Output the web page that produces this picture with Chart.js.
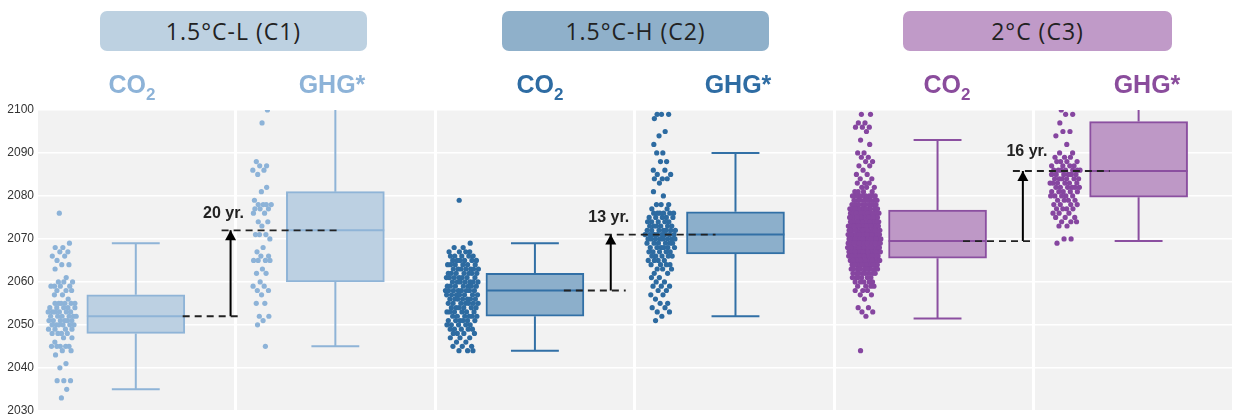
<!DOCTYPE html>
<html>
<head>
<meta charset="utf-8">
<script src="https://cdn.jsdelivr.net/npm/chart.js@4/dist/chart.umd.min.js"></script>
<style>
  html, body { margin:0; padding:0; background:#fff; overflow:hidden; width:1236px; height:415px; }
  #wrap { position:relative; width:1236px; height:420px; }
  canvas { position:absolute; left:0; top:0; }
  .tb { position:absolute; top:11px; height:40px; border-radius:7px; display:flex; align-items:center; justify-content:center;
        font-family:'Open Sans', sans-serif; font-size:23px; color:#222; letter-spacing:1px; z-index:2; }
  .st { position:absolute; top:71px; line-height:26px; font-family:'Liberation Sans', Arial, sans-serif; font-weight:bold; font-size:25px;
        transform:translateX(-50%); white-space:nowrap; z-index:2; }
  .st .s2 { font-size:17px; position:relative; top:7px; }
</style>
</head>
<body>
<div id="wrap">
  <canvas id="c" width="1236" height="420"></canvas>
  <div class="tb" style="left:100px;width:267px;background:#bdd1e1">1.5°C-L (C1)</div>
  <div class="tb" style="left:502px;width:267px;background:#8fb0ca">1.5°C-H (C2)</div>
  <div class="tb" style="left:903px;width:269px;background:#c09ac8">2°C (C3)</div>
  <div class="st" style="left:132px;color:#8db3d8">CO<span class="s2">2</span></div>
  <div class="st" style="left:332px;color:#8db3d8">GHG*</div>
  <div class="st" style="left:540px;color:#2e6ca3">CO<span class="s2">2</span></div>
  <div class="st" style="left:738px;color:#2e6ca3">GHG*</div>
  <div class="st" style="left:947px;color:#8a4c9c">CO<span class="s2">2</span></div>
  <div class="st" style="left:1147px;color:#8a4c9c">GHG*</div>
</div>
<script>
// ---------------- DATA ----------------
const categories = ['1.5°C-L (C1)', '1.5°C-H (C2)', '2°C (C3)'];
const gases = ['CO2', 'GHG*'];
const yTicks = [2030, 2040, 2050, 2060, 2070, 2080, 2090, 2100];
const gapLabels = ['20 yr.', '13 yr.', '16 yr.'];

const c1Co2 = [2076,2069,2068,2068,2067,2067,2066,2066,2065,2064,2064,2063,2061,2060,2060,2060,2059,2059,2059,2059,2058,2058,2058,2057,2057,2056,2055,2055,2055,2055,2055,2055,2054,2054,2054,2054,2054,2053,2053,2053,2053,2053,2053,2052,2052,2052,2052,2052,2052,2051,2051,2051,2051,2051,2051,2050,2050,2050,2050,2050,2050,2049,2049,2049,2049,2048,2048,2048,2048,2047,2047,2046,2045,2045,2045,2045,2045,2044,2044,2043,2041,2040,2037,2037,2037,2035,2033];
const c1Ghg = [2101,2100,2097,2088,2087,2087,2086,2086,2085,2082,2081,2079,2078,2078,2078,2078,2077,2077,2077,2076,2076,2074,2074,2073,2071,2071,2071,2070,2068,2067,2066,2066,2065,2065,2065,2065,2063,2062,2062,2060,2059,2059,2058,2058,2057,2055,2055,2052,2052,2051,2050,2045];
const c2Co2 = [2079,2069,2068,2068,2067,2067,2067,2067,2066,2066,2066,2066,2066,2065,2065,2065,2065,2065,2065,2064,2064,2064,2064,2064,2064,2063,2063,2063,2063,2063,2063,2063,2062,2062,2062,2062,2062,2062,2062,2061,2061,2061,2061,2061,2061,2061,2060,2060,2060,2060,2060,2060,2060,2059,2059,2059,2059,2059,2059,2059,2058,2058,2058,2058,2058,2058,2058,2058,2057,2057,2057,2057,2057,2057,2057,2056,2056,2056,2056,2056,2056,2056,2055,2055,2055,2055,2055,2055,2055,2054,2054,2054,2054,2054,2054,2053,2053,2053,2053,2053,2053,2052,2052,2052,2052,2052,2052,2051,2051,2051,2051,2051,2051,2050,2050,2050,2050,2050,2049,2049,2049,2049,2049,2048,2048,2048,2048,2047,2047,2047,2046,2046,2045,2045,2045,2044,2044,2044];
const c2Ghg = [2099,2099,2099,2098,2095,2094,2092,2090,2090,2088,2088,2086,2086,2085,2085,2084,2084,2084,2083,2081,2080,2078,2078,2078,2077,2077,2076,2076,2076,2076,2076,2076,2075,2075,2075,2075,2075,2074,2074,2074,2074,2074,2073,2073,2073,2073,2073,2073,2072,2072,2072,2072,2072,2072,2072,2071,2071,2071,2071,2071,2071,2071,2071,2071,2070,2070,2070,2070,2070,2070,2070,2070,2069,2069,2069,2069,2069,2069,2068,2068,2068,2068,2068,2068,2067,2067,2067,2067,2067,2066,2066,2066,2066,2066,2065,2065,2065,2065,2064,2064,2064,2064,2063,2063,2063,2062,2062,2061,2061,2060,2060,2059,2059,2059,2058,2058,2057,2057,2056,2055,2055,2054,2054,2053,2053,2052,2051];
const c3Co2 = [2099,2099,2097,2097,2096,2096,2096,2095,2093,2092,2090,2090,2089,2089,2088,2088,2087,2087,2086,2085,2085,2084,2084,2083,2083,2083,2082,2082,2082,2081,2081,2081,2081,
2080,2080,2080,2080,2080,2080,2080,2080,
2079,2079,2079,2079,2079,2079,2079,2079,2079,
2078,2078,2078,2078,2078,2078,2078,2078,2078,2078,
2077,2077,2077,2077,2077,2077,2077,2077,2077,2077,2077,2077,
2076,2076,2076,2076,2076,2076,2076,2076,2076,2076,2076,2076,2076,
2075,2075,2075,2075,2075,2075,2075,2075,2075,2075,2075,2075,2075,
2074,2074,2074,2074,2074,2074,2074,2074,2074,2074,2074,2074,2074,2074,
2073,2073,2073,2073,2073,2073,2073,2073,2073,2073,2073,2073,2073,2073,2073,
2072,2072,2072,2072,2072,2072,2072,2072,2072,2072,2072,2072,2072,2072,2072,2072,
2071,2071,2071,2071,2071,2071,2071,2071,2071,2071,2071,2071,2071,2071,2071,2071,2071,
2070,2070,2070,2070,2070,2070,2070,2070,2070,2070,2070,2070,2070,2070,2070,2070,2070,2070,
2069,2069,2069,2069,2069,2069,2069,2069,2069,2069,2069,2069,2069,2069,2069,2069,2069,2069,
2068,2068,2068,2068,2068,2068,2068,2068,2068,2068,2068,2068,2068,2068,2068,2068,2068,2068,
2067,2067,2067,2067,2067,2067,2067,2067,2067,2067,2067,2067,2067,2067,2067,2067,2067,
2066,2066,2066,2066,2066,2066,2066,2066,2066,2066,2066,2066,2066,2066,2066,2066,
2065,2065,2065,2065,2065,2065,2065,2065,2065,2065,2065,2065,2065,2065,
2064,2064,2064,2064,2064,2064,2064,2064,2064,2064,2064,2064,
2063,2063,2063,2063,2063,2063,2063,2063,2063,2063,
2062,2062,2062,2062,2062,2062,2062,2062,
2061,2061,2061,2061,2061,2061,
2060,2060,2060,2060,2060,
2059,2059,2059,2059,
2058,2058,2058,
2057,2057,2056,2054,2054,2053,2053,2052,2044];
const c3Ghg = [2100,2099,2099,2097,2095,2095,2094,2092,2090,2090,2089,2089,2089,2088,2088,2088,2088,2087,2087,2087,2087,2086,2086,2086,2086,2086,2086,2086,2085,2085,2085,2085,2085,2085,2084,2084,2084,2084,2084,2084,2083,2083,2083,2083,2083,2083,2082,2082,2082,2082,2082,2082,2081,2081,2081,2081,2081,2080,2080,2080,2080,2080,2079,2079,2079,2079,2078,2078,2078,2078,2077,2077,2077,2077,2076,2076,2076,2075,2075,2075,2074,2074,2074,2073,2073,2070,2070,2069];

// box statistics (C1 CO2, C1 GHG, C2 CO2, C2 GHG, C3 CO2, C3 GHG)
const boxLow  = [2035, 2045, 2044, 2052, 2051.5, 2069.5];
const boxQ1   = [2048, 2060, 2052, 2066.5, 2065.5, 2079.7];
const boxMed  = [2052, 2072, 2058, 2071, 2069.5, 2085.8];
const boxQ3   = [2057, 2081, 2062, 2076.3, 2076.7, 2097.3];
const boxHigh = [2069, 2110, 2069, 2090, 2093, 2110];

// ---------------- LAYOUT / STYLE ----------------
const strips = [c1Co2, c1Ghg, c2Co2, c2Ghg, c3Co2, c3Ghg];
const stripCenter = [0.13, 0.13, 0.135, 0.13, 0.15, 0.155];
const stripHalf   = [0.075, 0.055, 0.085, 0.08, 0.085, 0.08];
const boxCenter   = [0.5, 0.5, 0.5, 0.505, 0.5175, 0.525];
const boxWidthU = 0.245, capHalfU = 0.12;
const pointColor = ['#8db3d8','#8db3d8','#2d6ba1','#2d6ba1','#8646a0','#8646a0'];
const boxFill    = ['#bcd0e2','#bcd0e2','#8cafcb','#8cafcb','#be98c6','#be98c6'];
const boxLine    = ['#8fb4d7','#8fb4d7','#3270a6','#3270a6','#8b4fa0','#8b4fa0'];
const annot = [
  {lowFrom:0.735, lowTo:1.035, arrowX:0.975, upFrom:0.93,  upTo:1.53,  dx:-7, dy:-17},
  {lowFrom:0.645, lowTo:0.955, arrowX:0.88,  upFrom:0.85,  upTo:1.405, dx:-2, dy:-17},
  {lowFrom:0.645, lowTo:0.985, arrowX:0.945, upFrom:0.895, upTo:1.38,  dx:4,  dy:-19}
];

// strip-plot jitter: evenly spread offsets, width following local density (layout only)
function stripOffsets(vals, half) {
  const dens = vals.map(v => vals.filter(w => Math.abs(w - v) <= 1.5).length);
  const dmax = Math.max(...dens);
  return vals.map((v, i) => {
    const f = (i * 0.6180339887 + 0.31) % 1;
    const w = half * Math.min(1, 0.3 + 0.7 * Math.sqrt(dens[i] / dmax));
    return (f - 0.5) * 2 * w;
  });
}

const datasets = [];
strips.forEach((vals, s) => {
  const off = stripOffsets(vals, stripHalf[s]);
  datasets.push({
    type: 'scatter', order: 1, clip: 0,
    data: vals.map((v, i) => ({x: s + stripCenter[s] + off[i], y: v})),
    backgroundColor: pointColor[s], borderWidth: 0, pointRadius: 2.6, pointHoverRadius: 2.6
  });
});
datasets.push({
  type: 'bar', order: 3, clip: 0,
  data: boxQ1.map((q1, s) => ({x: s + boxCenter[s], y: [q1, boxQ3[s]]})),
  backgroundColor: boxFill, borderColor: boxLine, borderWidth: 2, borderSkipped: false,
  barThickness: 98, grouped: false
});
const GAP = {x: null, y: null};
strips.forEach((_, s) => {
  const c = s + boxCenter[s];
  datasets.push({
    type: 'scatter', order: 2, showLine: true, spanGaps: false, clip: 0,
    data: [
      {x: c, y: boxQ3[s]}, {x: c, y: boxHigh[s]}, GAP,
      {x: c - capHalfU, y: boxHigh[s]}, {x: c + capHalfU, y: boxHigh[s]}, GAP,
      {x: c, y: boxQ1[s]}, {x: c, y: boxLow[s]}, GAP,
      {x: c - capHalfU, y: boxLow[s]}, {x: c + capHalfU, y: boxLow[s]}, GAP,
      {x: c - boxWidthU, y: boxMed[s]}, {x: c + boxWidthU, y: boxMed[s]}
    ],
    borderColor: boxLine[s], borderWidth: 2, pointRadius: 0, pointHoverRadius: 0
  });
});
annot.forEach((a, g) => {
  const base = 2 * g, lo = boxMed[base], hi = boxMed[base + 1];
  datasets.push({
    type: 'scatter', order: 0, showLine: true, spanGaps: false, clip: 0,
    data: [{x: base + a.lowFrom, y: lo}, {x: base + a.lowTo, y: lo}, GAP,
           {x: base + a.upFrom, y: hi}, {x: base + a.upTo, y: hi}],
    borderColor: '#222', borderWidth: 1.8, borderDash: [7, 5], pointRadius: 0, pointHoverRadius: 0
  });
  datasets.push({
    type: 'scatter', order: 0, showLine: true, clip: 0,
    data: [{x: base + a.arrowX, y: lo}, {x: base + a.arrowX, y: hi}],
    borderColor: '#000', borderWidth: 2, pointRadius: 0, pointHoverRadius: 0
  });
});

const bgPlugin = {
  id: 'bg',
  beforeDraw(chart) {
    const {ctx, chartArea: a} = chart;
    ctx.save(); ctx.fillStyle = '#f2f2f2';
    ctx.fillRect(a.left, a.top, a.right - a.left, a.bottom - a.top);
    ctx.restore();
  }
};
const arrowPlugin = {
  id: 'arrows',
  afterDatasetsDraw(chart) {
    const {ctx} = chart, xs = chart.scales.x, ys = chart.scales.y;
    annot.forEach((a, g) => {
      const x = xs.getPixelForValue(2 * g + a.arrowX);
      const y = ys.getPixelForValue(boxMed[2 * g + 1]);
      ctx.save();
      ctx.fillStyle = '#000';
      ctx.beginPath(); ctx.moveTo(x, y); ctx.lineTo(x - 5.5, y + 10); ctx.lineTo(x + 5.5, y + 10); ctx.closePath(); ctx.fill();
      ctx.font = 'bold 16px "Liberation Sans", Arial, sans-serif';
      ctx.fillStyle = '#222'; ctx.textAlign = 'center'; ctx.textBaseline = 'middle';
      ctx.fillText(gapLabels[g], x + a.dx, y + a.dy);
      ctx.restore();
    });
  }
};

new Chart(document.getElementById('c'), {
  type: 'scatter',
  data: { datasets },
  plugins: [bgPlugin, arrowPlugin],
  options: {
    responsive: false, animation: false, devicePixelRatio: 1,
    layout: { padding: { top: 110, bottom: 9, left: 0, right: 0 } },
    plugins: { legend: { display: false }, tooltip: { enabled: false } },
    scales: {
      x: {
        type: 'linear', min: 0, max: 6, offset: false,
        afterBuildTicks: sc => { sc.ticks = [0,1,2,3,4,5,6].map(v => ({value: v})); },
        afterFit: sc => { sc.height = 0; },
        ticks: { display: false },
        grid: { color: '#ffffff', lineWidth: 3, drawTicks: false, offset: false },
        border: { display: false }
      },
      y: {
        type: 'linear', min: 2030, max: 2100,
        afterBuildTicks: sc => { sc.ticks = yTicks.map(v => ({value: v})); },
        afterFit: sc => { sc.width = 36; },
        ticks: { padding: 2, color: '#333', font: { family: "'Liberation Sans Narrow', 'Liberation Sans', Arial, sans-serif", size: 12 },
                 callback: v => String(v) },
        grid: { color: '#ffffff', lineWidth: 1.5, drawTicks: false },
        border: { display: false }
      }
    }
  }
});
</script>
</body>
</html>
